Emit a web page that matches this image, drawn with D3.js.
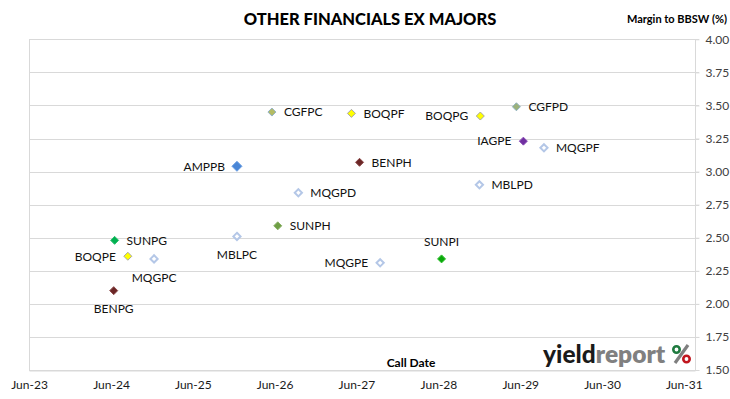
<!DOCTYPE html>
<html>
<head>
<meta charset="utf-8">
<script src="https://cdn.jsdelivr.net/npm/d3@7"></script>
<style>
  html, body { margin: 0; padding: 0; background: #fff; }
  svg { display: block; font-family: Lato, "Liberation Sans", sans-serif; }
</style>
</head>
<body>
<svg id="chart" width="730" height="399"></svg>
<script>
// ---- data ----
const issues = ["AMPPB","BENPG","BENPH","BOQPE","BOQPF","BOQPG","CGFPC","CGFPD","IAGPE",
                "MBLPC","MBLPD","MQGPC","MQGPD","MQGPE","MQGPF","SUNPG","SUNPH","SUNPI"];
const callDates = ["2025-12-15","2024-06-13","2027-06-15","2024-08-15","2027-05-10","2028-12-05",
                   "2026-05-20","2029-05-15","2029-06-15","2025-12-15","2028-12-01","2024-12-10",
                   "2026-09-15","2027-09-15","2029-09-15","2024-06-17","2026-06-15","2028-06-15"];
const margins = [3.04,2.10,3.07,2.36,3.44,3.42,3.45,3.49,3.23,2.51,2.90,2.34,2.84,2.31,3.18,2.48,2.59,2.34];
const labelSides = ["left","below","right","left","right","left","right","right","left",
                    "below","right","below","right","left","right","right","right","above"];
const yTicks = [1.50,1.75,2.00,2.25,2.50,2.75,3.00,3.25,3.50,3.75,4.00];
const xTickYears = [2023,2024,2025,2026,2027,2028,2029,2030,2031];
const title = "OTHER FINANCIALS EX MAJORS";
const yTitle = "Margin to BBSW (%)";
const xTitle = "Call Date";

// ---- styles ----
const hollow = {fill:"#ffffff", stroke:"#b4c7e7", sw:2, r:3.6};
const markerStyles = {
  AMPPB:{fill:"#4a86d6", stroke:"#6b9fe3", sw:1, r:5},
  BENPG:{fill:"#6b2626", stroke:"#8c4a4a", sw:1, r:4},
  BENPH:{fill:"#6b2626", stroke:"#8c4a4a", sw:1, r:4},
  BOQPE:{fill:"#ffff00", stroke:"#a6a6a6", sw:1, r:4},
  BOQPF:{fill:"#ffff00", stroke:"#a6a6a6", sw:1, r:4},
  BOQPG:{fill:"#ffff00", stroke:"#a6a6a6", sw:1, r:4},
  CGFPC:{fill:"#b4bc64", stroke:"#93b2c8", sw:1, r:4},
  CGFPD:{fill:"#9cb27a", stroke:"#8fb2c2", sw:1, r:4},
  IAGPE:{fill:"#7030a0", stroke:"#8a4cb8", sw:1, r:4},
  MBLPC:hollow, MBLPD:hollow, MQGPC:hollow, MQGPD:hollow, MQGPE:hollow, MQGPF:hollow,
  SUNPG:{fill:"#00b050", stroke:"#2fc070", sw:1, r:4},
  SUNPH:{fill:"#6f9f45", stroke:"#8ab066", sw:1, r:4},
  SUNPI:{fill:"#0aa80a", stroke:"#30c030", sw:1, r:4}
};

// ---- layout ----
const W = 730, H = 399;
const plot = {left: 29, right: 695, top: 39.3, bottom: 370};
const svg = d3.select("#chart");
svg.append("rect").attr("width", W).attr("height", H).attr("fill", "#fff");

const parse = d3.timeParse("%Y-%m-%d");
const x = d3.scaleTime()
  .domain([new Date(2023,5,1), new Date(2031,6,21)])
  .range([plot.left, plot.right]);
const y = d3.scaleLinear().domain([1.5, 4.0]).range([plot.bottom, plot.top]);

// gridlines
svg.append("g").selectAll("line").data(yTicks).join("line")
  .attr("x1", plot.left).attr("x2", plot.right + 4)
  .attr("y1", d => Math.round(y(d)) + 0.5).attr("y2", d => Math.round(y(d)) + 0.5)
  .attr("stroke", "#d9d9d9").attr("stroke-width", 1);
// left border
svg.append("line")
  .attr("x1", plot.left + 0.5).attr("x2", plot.left + 0.5)
  .attr("y1", plot.top).attr("y2", plot.bottom)
  .attr("stroke", "#d9d9d9");

// right axis
const yAxis = d3.axisRight(y).tickValues(yTicks).tickFormat(d3.format(".2f")).tickSize(4).tickPadding(6);
const ga = svg.append("g").attr("transform", `translate(${plot.right + 0.5},0)`).call(yAxis);
ga.select(".domain").attr("stroke", "#d9d9d9").attr("d", `M0,${plot.top}V${plot.bottom}`);
ga.selectAll(".tick line").attr("stroke", "#d9d9d9");
ga.selectAll(".tick text").attr("fill", "#404040").attr("font-size", 12).attr("font-family", "Lato, sans-serif");

// bottom axis
const xAxis = d3.axisBottom(x).tickValues(xTickYears.map(yr => new Date(yr,5,1)))
  .tickFormat(d3.timeFormat("%b-%y")).tickSize(0).tickPadding(10);
const gx = svg.append("g").attr("transform", `translate(0,${Math.round(plot.bottom) + 0.5})`).call(xAxis);
gx.select(".domain").attr("stroke", "#d9d9d9");
gx.selectAll(".tick text").attr("fill", "#1a1a1a").attr("font-size", 12).attr("font-family", "Lato, sans-serif");

// titles
svg.append("text").attr("x", 370).attr("y", 25).attr("text-anchor", "middle")
  .attr("font-weight", 900).attr("font-size", 16.5).attr("fill", "#000").text(title);
svg.append("text").attr("x", 727).attr("y", 23).attr("text-anchor", "end")
  .attr("font-weight", "bold").attr("font-size", 11).attr("fill", "#000").text(yTitle);
svg.append("text").attr("x", 411).attr("y", 367).attr("text-anchor", "middle")
  .attr("font-weight", "bold").attr("font-size", 12).attr("fill", "#000").text(xTitle);

// points
const diamond = r => `M0,${-r}L${r},0L0,${r}L${-r},0Z`;
const pts = issues.map((code, i) => ({code, date: parse(callDates[i]), m: margins[i], side: labelSides[i]}));
const gp = svg.append("g");
gp.selectAll("path").data(pts).join("path")
  .attr("transform", d => `translate(${x(d.date)},${y(d.m)})`)
  .attr("d", d => diamond(markerStyles[d.code].r))
  .attr("fill", d => markerStyles[d.code].fill)
  .attr("stroke", d => markerStyles[d.code].stroke)
  .attr("stroke-width", d => markerStyles[d.code].sw);

const off = {left:[-12,0,"end"], right:[12,0,"start"], below:[0,18.5,"middle"], above:[0,-17,"middle"]};
gp.selectAll("text").data(pts).join("text")
  .attr("x", d => x(d.date) + off[d.side][0])
  .attr("y", d => y(d.m) + off[d.side][1])
  .attr("dy", "0.36em")
  .attr("text-anchor", d => off[d.side][2])
  .attr("font-size", 12).attr("fill", "#111")
  .text(d => d.code);

// logo
const logo = svg.append("g");
const lt = logo.append("text").attr("x", 543).attr("y", 363)
  .attr("font-size", 24.5).attr("font-weight", 900).attr("font-family", "Lato, sans-serif");
lt.append("tspan").attr("fill", "#1a1a1a").text("yield");
lt.append("tspan").attr("fill", "#808080").attr("font-weight", 800).text("report");
// % mark
logo.append("line").attr("x1", 675).attr("y1", 363).attr("x2", 688).attr("y2", 345)
  .attr("stroke", "#7f7f7f").attr("stroke-width", 3.2);
logo.append("circle").attr("cx", 676.5).attr("cy", 349.5).attr("r", 3.2)
  .attr("fill", "#fff").attr("stroke", "#1f7a3f").attr("stroke-width", 2.6);
logo.append("circle").attr("cx", 686.5).attr("cy", 359).attr("r", 3.2)
  .attr("fill", "#fff").attr("stroke", "#c0161e").attr("stroke-width", 2.6);
</script>
</body>
</html>
